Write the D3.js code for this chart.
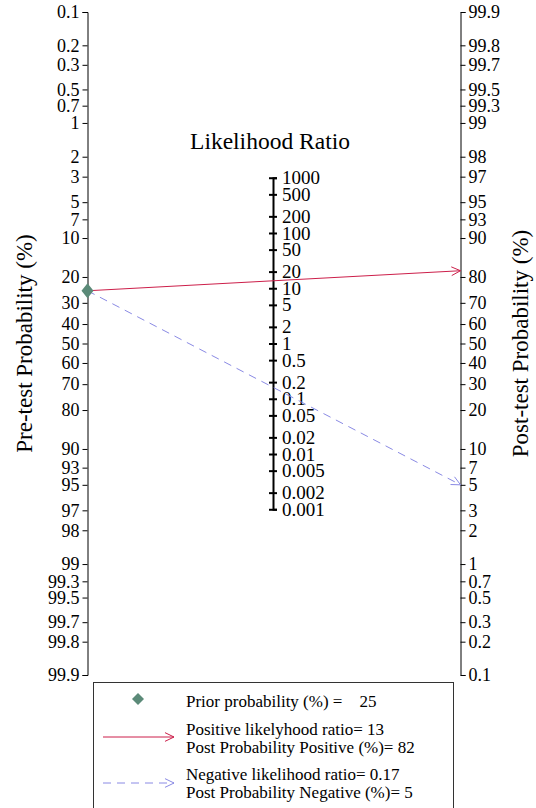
<!DOCTYPE html>
<html>
<head>
<meta charset="utf-8">
<script src="https://cdn.jsdelivr.net/npm/d3@7"></script>
<style>
body { margin: 0; background: #fff; }
svg text { font-family: "Liberation Serif", "DejaVu Serif", serif !important; fill: #000; }
.axis path, .axis line { stroke: #000; }
</style>
</head>
<body>
<div id="chart"></div>
<script>
// probability ticks (%), same set on both sides
var probTicks = [0.1, 0.2, 0.3, 0.5, 0.7, 1, 2, 3, 5, 7, 10, 20, 30, 40, 50, 60, 70, 80, 90, 93, 95, 97, 98, 99, 99.3, 99.5, 99.7, 99.8, 99.9];
var lrTicks = [1000, 500, 200, 100, 50, 20, 10, 5, 2, 1, 0.5, 0.2, 0.1, 0.05, 0.02, 0.01, 0.005, 0.002, 0.001];

// values shown in the legend
var priorProb = 25;
var posLR = 13, postPos = 82;
var negLR = 0.17, postNeg = 5;

var W = 536, H = 808;
var p = {xL: 87.5, xR: 460.5, top: 12, bottom: 675};
p.xM = (p.xL + p.xR) / 2 - 1;

function logit(pct) {
	var q = pct / 100;
	return Math.log(q / (1 - q));
}

var svg = d3.select('#chart').append('svg').attr('width', W).attr('height', H);

// left: 0.1 at top, right: 99.9 at top
var yL = d3.scaleLinear().domain([logit(0.1), logit(99.9)]).range([p.top, p.bottom]);
var yR = d3.scaleLinear().domain([logit(99.9), logit(0.1)]).range([p.top, p.bottom]);
// middle axis sits halfway, so it carries half the slope
var mid = (p.top + p.bottom) / 2;
var k = (p.bottom - p.top) / (logit(99.9) - logit(0.1));
var lnMax = Math.log(1000), lnMin = Math.log(0.001);
var yM = d3.scaleLinear().domain([lnMax, lnMin]).range([mid - k / 2 * lnMax, mid - k / 2 * lnMin]);

var fmt = function(d, i) { return String(probTicks[i]); };

var gL = svg.append('g').attr('class', 'axis').attr('transform', 'translate(' + p.xL + ',0)')
	.call(d3.axisLeft(yL).tickValues(probTicks.map(logit)).tickFormat(fmt).tickSizeOuter(0).tickSize(5).tickPadding(3));
var gR = svg.append('g').attr('class', 'axis').attr('transform', 'translate(' + p.xR + ',0)')
	.call(d3.axisRight(yR).tickValues(probTicks.map(logit)).tickFormat(fmt).tickSizeOuter(0).tickSize(5).tickPadding(3));

var gM = svg.append('g').attr('class', 'axis').attr('transform', 'translate(' + p.xM + ',0)')
	.call(d3.axisRight(yM).tickValues(lrTicks.map(Math.log)).tickFormat(function(d, i) { return String(lrTicks[i]); })
		.tickSizeOuter(0).tickSize(4).tickPadding(6));
gM.select('path.domain').attr('stroke-width', 2);
gM.selectAll('.tick line').attr('x1', -4).attr('x2', 4).attr('stroke-width', 2);
gM.selectAll('.tick text').attr('x', 9);
[gL, gR, gM].forEach(function(g) {
	g.attr('font-family', null).attr('font-size', null);
	g.selectAll('text').style('font-size', '18px');
});
gM.selectAll('text').style('font-size', '19px');

svg.append('text').attr('x', 270).attr('y', 149).attr('text-anchor', 'middle').style('font-size', '23.5px').text('Likelihood Ratio');
svg.append('text').attr('transform', 'translate(32,' + mid + ') rotate(-90)').attr('text-anchor', 'middle').style('font-size', '23px').text('Pre-test Probability (%)');
svg.append('text').attr('transform', 'translate(528,' + mid + ') rotate(-90)').attr('text-anchor', 'middle').style('font-size', '23px').text('Post-test Probability (%)');

var red = '#cc1f4a', blue = '#8a8ae4', green = '#5b8a78';

function arrowHead(g, x, y, ang, color) {
	var len = 10, spread = 0.45;
	var pts = [[x - len * Math.cos(ang - spread), y - len * Math.sin(ang - spread)], [x, y], [x - len * Math.cos(ang + spread), y - len * Math.sin(ang + spread)]];
	g.append('path').attr('d', d3.line()(pts)).attr('fill', 'none').attr('stroke', color).attr('stroke-width', 1);
}

function drawLine(post, color, dash) {
	var x1 = p.xL, y1 = yL(logit(priorProb)), x2 = p.xR, y2 = yR(logit(post));
	var g = svg.append('g');
	g.append('line').attr('x1', x1).attr('y1', y1).attr('x2', x2).attr('y2', y2)
		.attr('stroke', color).attr('stroke-width', 1).attr('stroke-dasharray', dash);
	arrowHead(g, x2, y2, Math.atan2(y2 - y1, x2 - x1), color);
}
drawLine(postPos, red, null);
drawLine(postNeg, blue, '8,6');

function diamond(x, y, hw, hh) {
	return d3.line()([[x, y - hh], [x + hw, y], [x, y + hh], [x - hw, y]]) + 'Z';
}
svg.append('path').attr('d', diamond(p.xL, yL(logit(priorProb)), 6, 7.5)).attr('fill', green);

// legend
var lg = svg.append('g');
var fs = '17px';
lg.append('rect').attr('x', 93.5).attr('y', 682.5).attr('width', 360).attr('height', 140).attr('fill', 'none').attr('stroke', '#333');
lg.append('path').attr('d', diamond(138, 699, 6, 6)).attr('fill', green);
lg.append('text').attr('x', 186).attr('y', 707).style('font-size', fs).attr('xml:space', 'preserve').text('Prior probability (%) =    ' + priorProb);

lg.append('line').attr('x1', 103).attr('x2', 174).attr('y1', 737).attr('y2', 737).attr('stroke', red);
arrowHead(lg, 174, 737, 0, red);
lg.append('text').attr('x', 186).attr('y', 735).style('font-size', fs).text('Positive likelyhood ratio= ' + posLR);
lg.append('text').attr('x', 186).attr('y', 753).style('font-size', fs).text('Post Probability Positive (%)= ' + postPos);

lg.append('line').attr('x1', 103).attr('x2', 174).attr('y1', 783).attr('y2', 783).attr('stroke', blue).attr('stroke-dasharray', '8,6');
arrowHead(lg, 174, 783, 0, blue);
lg.append('text').attr('x', 186).attr('y', 780).style('font-size', fs).text('Negative likelihood ratio= ' + negLR);
lg.append('text').attr('x', 186).attr('y', 798).style('font-size', fs).text('Post Probability Negative (%)= ' + postNeg);
</script>
</body>
</html>
